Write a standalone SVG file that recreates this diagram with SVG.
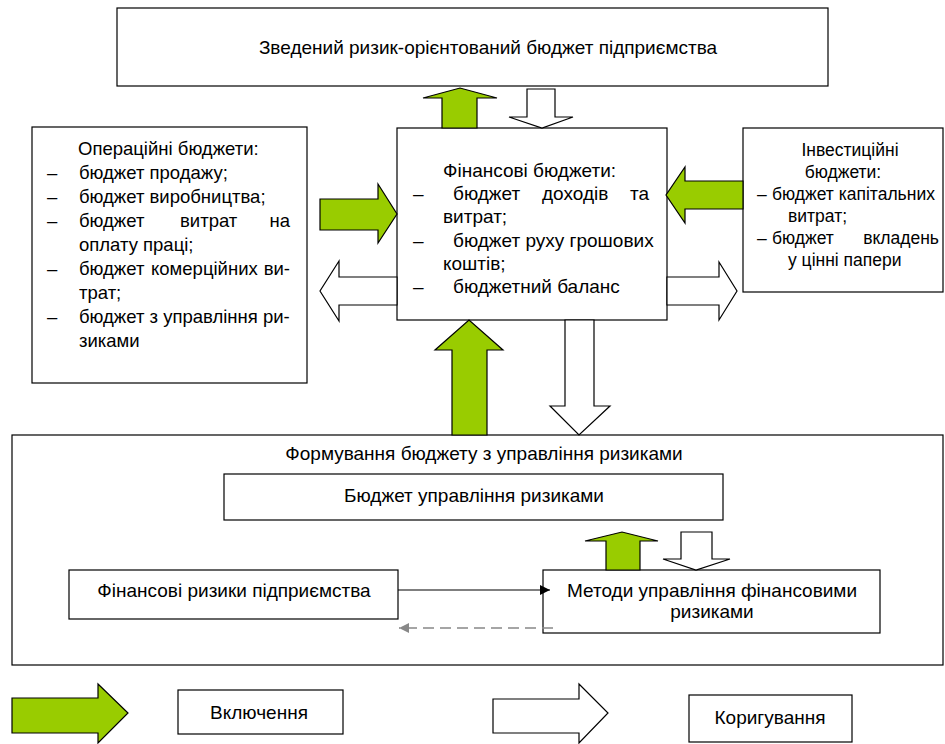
<svg xmlns="http://www.w3.org/2000/svg" width="945" height="744" viewBox="0 0 945 744">
<style>
.box{fill:#fff;stroke:#000;stroke-width:1.2}
.g{fill:#99CC00;stroke:#000;stroke-width:1.2;stroke-linejoin:miter}
.w{fill:#fff;stroke:#000;stroke-width:1.2;stroke-linejoin:miter}
text{font-family:"Liberation Sans",Arial,sans-serif;fill:#000}
.t19{font-size:19px}
.tl{font-size:18.5px}
.t17{font-size:17.5px}
.tb{font-size:19px}
.mid{text-anchor:middle}
.end{text-anchor:end}
</style>
<defs>
<marker id="ah" viewBox="0 0 10 10" refX="10" refY="5" markerWidth="10" markerHeight="10" markerUnits="userSpaceOnUse" orient="auto"><path d="M0,0L10,5L0,10z" fill="#000"/></marker>
<marker id="ahg" viewBox="0 0 10 10" refX="10" refY="5" markerWidth="10" markerHeight="10" markerUnits="userSpaceOnUse" orient="auto"><path d="M0,0L10,5L0,10z" fill="#888"/></marker>
</defs>
<rect x="0" y="0" width="945" height="744" fill="#fff"/>

<g id="big">
<rect class="box" x="12" y="435" width="931" height="230"/>
<text class="tb mid" x="484" y="460">Формування бюджету з управління ризиками</text>
</g>

<g id="top">
<rect class="box" x="117" y="8" width="711" height="78"/>
<text class="t19 mid" x="488" y="54">Зведений ризик-орієнтований бюджет підприємства</text>
</g>

<g id="oper">
<rect class="box" x="32" y="127" width="275" height="256"/>
<text class="tl" x="78" y="155">Операційні бюджети:</text>
<text class="tl" x="47" y="179">–</text><text class="tl" x="79" y="179">бюджет продажу;</text>
<text class="tl" x="47" y="203">–</text><text class="tl" x="79" y="203">бюджет виробництва;</text>
<text class="tl" x="47" y="227">–</text><text class="tl" x="79" y="227">бюджет</text><text class="tl" x="180" y="227">витрат</text><text class="tl end" x="290" y="227">на</text>
<text class="tl" x="79" y="251">оплату праці;</text>
<text class="tl" x="47" y="275">–</text><text class="tl" x="79" y="275">бюджет</text><text class="tl" x="151" y="275">комерційних</text><text class="tl end" x="290" y="275">ви-</text>
<text class="tl" x="79" y="299">трат;</text>
<text class="tl" x="47" y="323">–</text><text class="tl" x="79" y="323">бюджет з управління ри-</text>
<text class="tl" x="79" y="347">зиками</text>
</g>

<g id="fin">
<rect class="box" x="397" y="128" width="270" height="192"/>
<text class="t19" x="443" y="177">Фінансові бюджети:</text>
<text class="t19" x="413" y="200">–</text><text class="t19" x="453" y="200">бюджет</text><text class="t19" x="542" y="200">доходів</text><text class="t19 end" x="649" y="200">та</text>
<text class="t19" x="443" y="223">витрат;</text>
<text class="t19" x="413" y="247">–</text><text class="t19" x="453" y="247">бюджет руху грошових</text>
<text class="t19" x="443" y="270">коштів;</text>
<text class="t19" x="413" y="293">–</text><text class="t19" x="453" y="293">бюджетний баланс</text>
</g>

<g id="invest">
<rect class="box" x="743" y="128" width="200" height="164"/>
<text class="t17 mid" x="850" y="156">Інвестиційні</text>
<text class="t17 mid" x="843" y="178">бюджети:</text>
<text class="t17" x="757" y="200">–</text><text class="t17" x="772" y="200">бюджет капітальних</text>
<text class="t17" x="788" y="222">витрат;</text>
<text class="t17" x="757" y="244">–</text><text class="t17" x="772" y="244">бюджет</text><text class="t17 end" x="939" y="244">вкладень</text>
<text class="t17" x="788" y="266">у цінні папери</text>
</g>

<g id="budget">
<rect class="box" x="224" y="474" width="499" height="46"/>
<text class="tb mid" x="474" y="502">Бюджет управління ризиками</text>
</g>

<g id="finrisk">
<rect class="box" x="69" y="570" width="329" height="49"/>
<text class="tb mid" x="234" y="597">Фінансові ризики підприємства</text>
</g>

<g id="methods">
<rect class="box" x="543" y="570" width="337" height="63"/>
<text class="tb mid" x="712" y="597">Методи управління фінансовими</text>
<text class="tb mid" x="712" y="618">ризиками</text>
</g>

<g id="legend-incl">
<rect class="box" x="178" y="690" width="165" height="44"/>
<text class="tb mid" x="259" y="719">Включення</text>
</g>

<g id="legend-corr">
<rect class="box" x="689" y="695" width="163" height="47"/>
<text class="tb mid" x="770" y="724">Коригування</text>
</g>

<g id="connectors">
<polygon class="g" points="442,128 442,98 423,98 460,88 497,98 477,98 477,128"/>
<polygon class="w" points="527,89 555,89 555,117 573,117 542,128 509,117 527,117"/>
<polygon class="g" points="320,199 378,199 378,184 397,214 378,243 378,230 320,230"/>
<polygon class="w" points="397,277 339,277 339,261 320,291 339,321 339,305 397,305"/>
<polygon class="g" points="743,181 685,181 685,167 666,195 685,223 685,209 743,209"/>
<polygon class="w" points="667,277 719,277 719,262 737,291 719,320 719,305 667,305"/>
<polygon class="g" points="452,435 452,350 435,350 469,320 503,350 487,350 487,435"/>
<polygon class="w" points="565,320 594,320 594,406 610,406 579,435 550,406 565,406"/>
<polygon class="g" points="606,570 606,541 585,541 622,532 658,541 640,541 640,570"/>
<polygon class="w" points="681,532 712,532 712,559 730,559 696,570 663,559 681,559"/>
<line x1="398" y1="590" x2="550" y2="590" stroke="#000" stroke-width="1.2" marker-end="url(#ah)"/>
<line x1="553" y1="628" x2="399" y2="628" stroke="#888" stroke-width="1.5" stroke-dasharray="11,6" marker-end="url(#ahg)"/>
<polygon class="g" points="12,698 98,698 98,684 128,713 98,743 98,733 12,733"/>
<polygon class="w" points="493,699 579,699 579,684 608,713 579,743 579,733 493,733"/>
</g>
</svg>
